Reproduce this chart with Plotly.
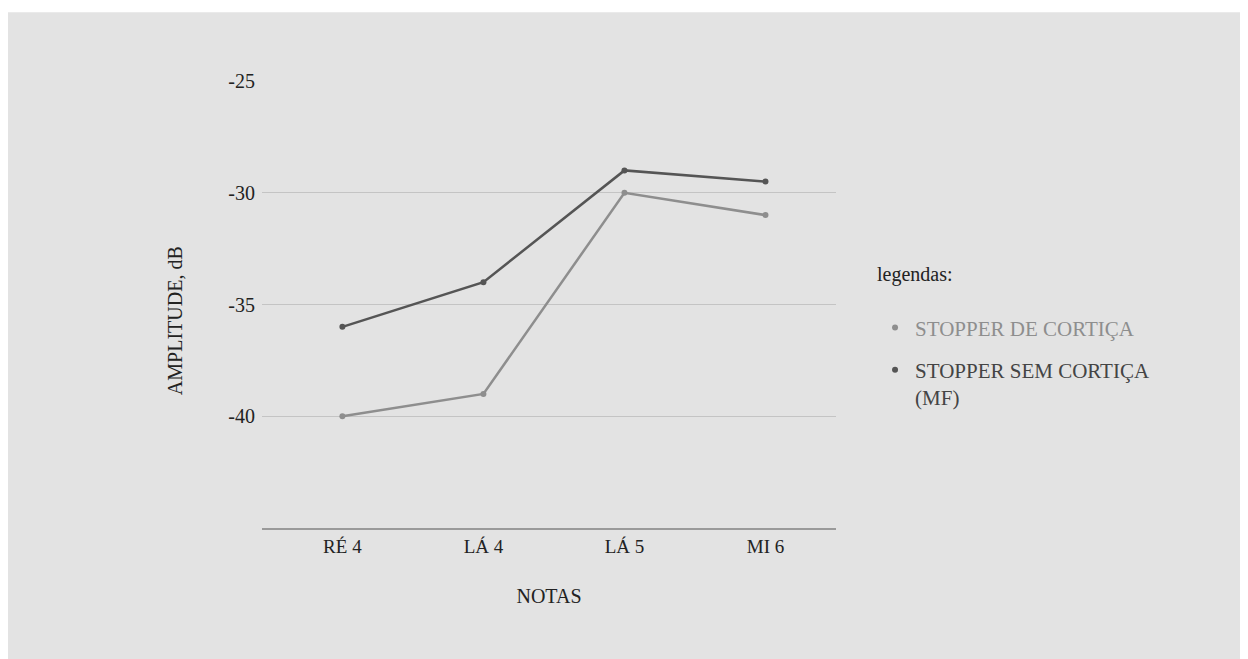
import plotly.graph_objects as go

notas = ["RÉ 4", "LÁ 4", "LÁ 5", "MI 6"]
com_cortica = [-40, -39, -30, -31]
sem_cortica = [-36, -34, -29, -29.5]
series_names = ["STOPPER DE CORTIÇA", "STOPPER SEM CORTIÇA<br>(MF)"]
y_ticks = [-40, -35, -30, -25]
y_tick_text = ["-40", "-35", "-30", "-25"]

light = "#8e8e8e"
dark = "#555555"
font_family = "Liberation Serif, DejaVu Serif, serif"

fig = go.Figure()
fig.add_trace(go.Scatter(x=notas, y=com_cortica, mode="lines+markers",
                         line=dict(color=light, width=2.5), marker=dict(size=6, color=light),
                         showlegend=False, hoverinfo="skip"))
fig.add_trace(go.Scatter(x=notas, y=sem_cortica, mode="lines+markers",
                         line=dict(color=dark, width=2.5), marker=dict(size=6, color=dark),
                         showlegend=False, hoverinfo="skip"))
# legend-only entries (dot symbol)
fig.add_trace(go.Scatter(x=[None], y=[None], mode="markers", marker=dict(size=6, color=light),
                         legendgroup="a",
                         name=f'<span style="color:{light}">{series_names[0]}</span>'))
fig.add_trace(go.Scatter(x=[None], y=[None], mode="markers", marker=dict(size=6, color=dark),
                         legendgroup="b",
                         name=f'<span style="color:#444444">{series_names[1]}</span>'))

fig.update_layout(
    width=1248, height=659,
    margin=dict(l=254, r=420, t=73, b=139),
    paper_bgcolor="#e3e3e3", plot_bgcolor="#e3e3e3",
    font=dict(family=font_family, size=17, color="#222222"),
    legend=dict(x=1.068, y=0.61, xanchor="left", yanchor="top",
                bgcolor="rgba(0,0,0,0)", valign="top",
                title=dict(text="legendas:<br> ", font=dict(size=20, color="#222222")),
                font=dict(size=21), tracegroupgap=12, itemwidth=30),
    shapes=[
        dict(type="rect", xref="paper", yref="paper", x0=-1, x1=2, y0=1.154, y1=1.3,
             fillcolor="white", line=dict(width=0), layer="below"),
    ],
    annotations=[
        dict(text="AMPLITUDE, dB", xref="paper", yref="paper", x=-0.1516, y=0.465,
             textangle=-90, showarrow=False, xanchor="center", yanchor="middle",
             font=dict(size=20, color="#222222")),
    ],
)
fig.update_xaxes(type="category", range=[-0.57, 3.5], showgrid=False,
                 showline=True, linecolor="#9a9a9a", linewidth=1.5,
                 ticks="", tickfont=dict(size=19),
                 title=dict(text="NOTAS", font=dict(size=20), standoff=33))
fig.update_yaxes(range=[-45, -25], tickvals=y_ticks, ticktext=y_tick_text,
                 showgrid=True, gridcolor="#c4c4c4",
                 gridwidth=1, zeroline=False, showline=False, ticks="",
                 ticklabelstandoff=6, tickfont=dict(size=20))

fig.write_html("out.html")
